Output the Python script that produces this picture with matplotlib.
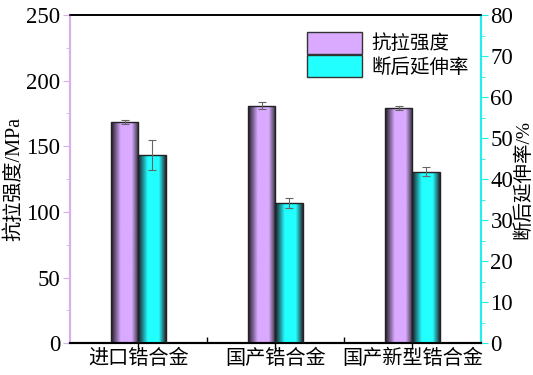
import numpy as np
import matplotlib.pyplot as plt
from matplotlib.colors import LinearSegmentedColormap
from matplotlib.patches import Patch
from matplotlib.ticker import MultipleLocator, FixedLocator

plt.rcParams['font.family'] = ['Liberation Serif', 'Noto Sans CJK SC']
plt.rcParams['axes.unicode_minus'] = False

categories = ['进口锆合金', '国产锆合金', '国产新型锆合金']
strength = [168.5, 180.8, 179.2]        # MPa
strength_err = [1.2, 2.6, 1.6]
elongation = [45.8, 34.2, 41.8]         # %
elongation_err = [3.7, 1.2, 1.1]

purple = '#d9aaff'
cyan = '#22ffff'


def shade_cmap(base):
    return LinearSegmentedColormap.from_list(
        'shade', [(0.0, '#1e1a26'), (0.35, base), (0.75, base), (1.0, '#2a2a33')])


def shade_bars(axis, bars, cmap):
    grad = np.linspace(0, 1, 64).reshape(1, -1)
    for b in bars:
        x0, y0 = b.get_x(), b.get_y()
        im = axis.imshow(grad, cmap=cmap, aspect='auto', zorder=2,
                         extent=(x0, x0 + b.get_width(), y0, y0 + b.get_height()))
        im.set_clip_path(b)


fig = plt.figure(figsize=(5.33, 3.75), dpi=100)
ax = fig.add_axes([0.131, 0.085, 0.771, 0.875])
ax2 = ax.twinx()

x = np.arange(len(categories)) + 0.5
w = 0.2

b1 = ax.bar(x - w / 2, strength, w, facecolor='none', edgecolor='#222222', lw=1.0, zorder=3)
ax.errorbar(x - w / 2, strength, yerr=strength_err, fmt='none', ecolor='#666666',
            elinewidth=0.8, capsize=3, capthick=0.8, zorder=4)
shade_bars(ax, b1, shade_cmap(purple))

b2 = ax2.bar(x + w / 2, elongation, w, facecolor='none', edgecolor='#222222', lw=1.0, zorder=3)
ax2.errorbar(x + w / 2, elongation, yerr=elongation_err, fmt='none', ecolor='#666666',
             elinewidth=0.8, capsize=3, capthick=0.8, zorder=4)
shade_bars(ax2, b2, shade_cmap(cyan))

ax.set_xlim(0, 3)
ax.set_ylim(0, 250)
ax2.set_ylim(0, 80)

ax.xaxis.set_major_locator(FixedLocator(x))
ax.xaxis.set_minor_locator(FixedLocator([1, 2]))
ax.set_xticklabels(categories, fontsize=14.5)
ax.tick_params(axis='x', which='major', direction='inout', length=8, width=1, color='black', pad=1)
ax.tick_params(axis='x', which='minor', direction='in', length=4, width=1, color='black')

ax.yaxis.set_major_locator(MultipleLocator(50))
ax.yaxis.set_minor_locator(MultipleLocator(25))
ax.tick_params(axis='y', which='both', direction='out', color='#d7b0f0', labelsize=16.5, pad=2)
ax.tick_params(axis='y', which='major', length=5)
ax.tick_params(axis='y', which='minor', length=3)

ax2.yaxis.set_major_locator(MultipleLocator(10))
ax2.yaxis.set_minor_locator(MultipleLocator(5))
ax2.tick_params(axis='y', which='both', direction='out', color='#22eeee', labelsize=16.5, pad=2)
ax2.tick_params(axis='y', which='major', length=5)
ax2.tick_params(axis='y', which='minor', length=3)

ax.set_ylabel('抗拉强度/MPa', fontsize=14.5, labelpad=1)
ax2.set_ylabel('断后延伸率/%', fontsize=14, labelpad=0)

for a in (ax, ax2):
    a.spines['left'].set_color('#d7b0f0')
    a.spines['right'].set_color('#22eeee')
    a.spines['left'].set_linewidth(1.5)
    a.spines['right'].set_linewidth(1.5)
    a.spines['bottom'].set_linewidth(1.5)
    a.spines['top'].set_linewidth(1.2)

handles = [Patch(facecolor=purple, edgecolor='#333333'),
           Patch(facecolor=cyan, edgecolor='#333333')]
ax2.legend(handles, ['抗拉强度', '断后延伸率'], loc='upper right', bbox_to_anchor=(1.0, 0.985),
           frameon=False, fontsize=14, handlelength=2.8, handleheight=1.4,
           handletextpad=0.5, labelspacing=0.05, borderaxespad=0.2)

fig.savefig('out.png', dpi=100)
